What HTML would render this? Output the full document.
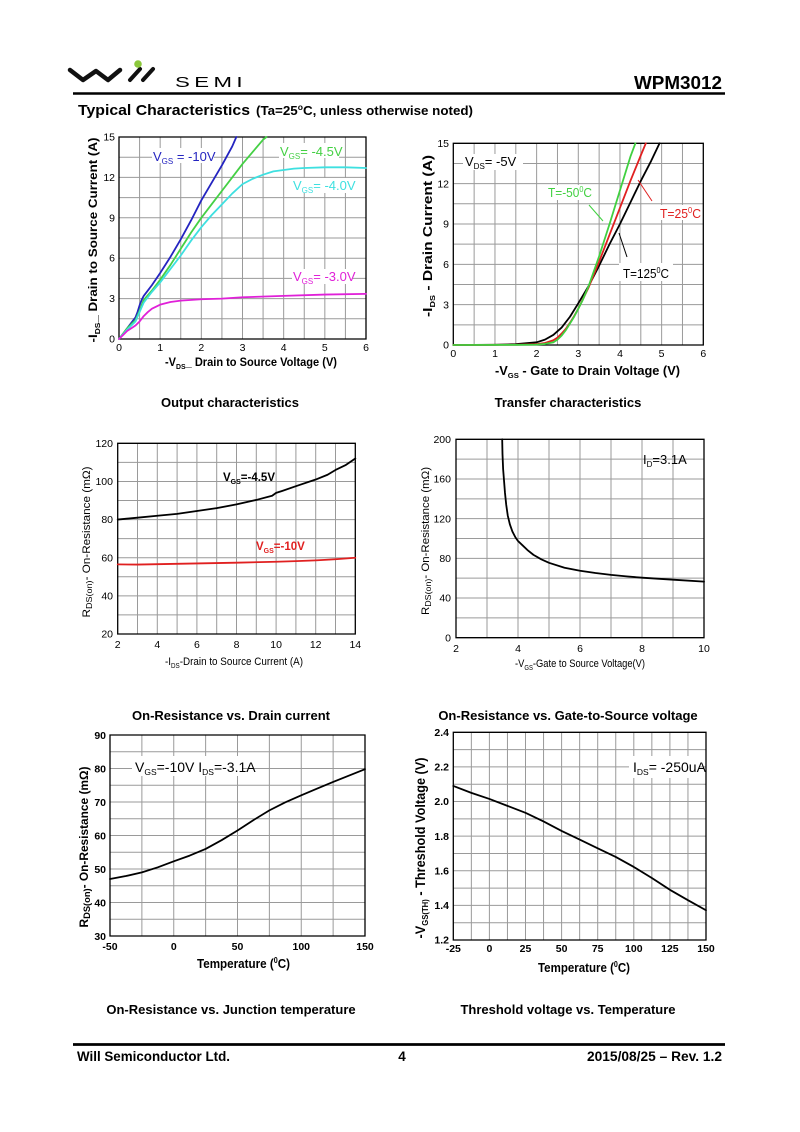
<!DOCTYPE html>
<html>
<head>
<meta charset="utf-8">
<style>
html,body{margin:0;padding:0;background:#fff;}
svg{display:block;}
text{font-family:"Liberation Sans",Arial,sans-serif;fill:#000;}
.g{fill:none;stroke:#9a9a9a;stroke-width:1;vector-effect:non-scaling-stroke;}
.f{fill:none;stroke:#000;stroke-width:1.3;vector-effect:non-scaling-stroke;}
.c{fill:none;stroke-width:1.8;stroke-linejoin:round;stroke-linecap:round;vector-effect:non-scaling-stroke;}
.t{font-size:10.5px;}
.b{font-weight:bold;}
</style>
</head>
<body>
<svg width="800" height="1132" viewBox="0 0 800 1132" xmlns="http://www.w3.org/2000/svg">
<rect width="800" height="1132" fill="#fff"/>

<!-- Header -->
<polyline points="70,70 83,80 96,71 108,80 120,70" fill="none" stroke="#111" stroke-width="4.5" stroke-linejoin="round" stroke-linecap="round"/>
<line x1="130" y1="80" x2="140" y2="69" stroke="#111" stroke-width="4" stroke-linecap="round"/>
<line x1="143" y1="80" x2="153" y2="69" stroke="#111" stroke-width="4" stroke-linecap="round"/>
<circle cx="138" cy="64" r="3.8" fill="#8cc83c"/>
<text x="175" y="87" font-size="15" textLength="72" lengthAdjust="spacingAndGlyphs" letter-spacing="3">SEMI</text>
<text x="722" y="89" font-size="18.5" class="b" text-anchor="end" textLength="88" lengthAdjust="spacingAndGlyphs">WPM3012</text>
<line x1="73" y1="93.5" x2="725" y2="93.5" stroke="#000" stroke-width="2.6"/>
<text x="78" y="115" font-size="15" class="b" textLength="172" lengthAdjust="spacingAndGlyphs">Typical Characteristics</text>
<text x="256" y="115" font-size="12.5" class="b" textLength="217" lengthAdjust="spacingAndGlyphs">(Ta=25<tspan font-size="8" dy="-5">o</tspan><tspan dy="5">C, unless otherwise noted)</tspan></text>

<!-- ===== Chart 1: Output characteristics ===== -->
<g transform="translate(119,339) scale(41.1667,-13.4667)">
<path class="g" d="M0.5,0V15M1,0V15M1.5,0V15M2,0V15M2.5,0V15M3,0V15M3.5,0V15M4,0V15M4.5,0V15M5,0V15M5.5,0V15M0,1.5H6M0,3H6M0,4.5H6M0,6H6M0,7.5H6M0,9H6M0,10.5H6M0,12H6M0,13.5H6"/>
<rect class="f" x="0" y="0" width="6" height="15"/>
<polyline class="c" stroke="#2424c0" points="0,0 0.1,0.4 0.2,0.8 0.3,1.2 0.4,1.6 0.45,2.0 0.5,2.5 0.55,2.9 0.6,3.2 0.7,3.6 0.8,4.0 1,4.9 1.25,6.1 1.5,7.4 1.75,8.8 2,10.3 2.25,11.6 2.5,12.9 2.75,14.3 2.85,15"/>
<polyline class="c" stroke="#44d044" points="0,0 0.2,0.8 0.4,1.4 0.5,2.1 0.6,2.9 0.8,3.6 1,4.4 1.25,5.5 1.5,6.7 1.75,7.9 2,9.0 2.25,10.0 2.5,11.0 2.75,12.0 3,13.0 3.25,13.9 3.5,14.8 3.58,15"/>
<polyline class="c" stroke="#3ee0e0" points="0,0 0.2,0.7 0.4,1.3 0.5,2.0 0.6,2.7 0.8,3.5 1,4.2 1.25,5.2 1.5,6.2 1.75,7.3 2,8.3 2.25,9.2 2.5,10.0 2.75,10.8 3,11.5 3.25,11.9 3.5,12.2 3.75,12.45 4,12.55 4.25,12.65 4.5,12.7 5,12.75 5.5,12.75 6,12.7"/>
<polyline class="c" stroke="#e020d8" points="0,0 0.1,0.3 0.2,0.6 0.3,0.8 0.4,1.0 0.5,1.3 0.6,1.7 0.7,2.0 0.8,2.25 1,2.55 1.25,2.75 1.5,2.85 2,2.95 2.5,3.0 3,3.1 4,3.2 5,3.3 6,3.35"/>
</g>
<rect x="152" y="148" width="62" height="15" fill="#fff"/>
<text x="153" y="161" font-size="13" style="fill:#2424c0">V<tspan font-size="8" dy="3">GS</tspan><tspan dy="-3"> = -10V</tspan></text>
<rect x="279" y="143" width="60" height="15" fill="#fff"/>
<text x="280" y="156" font-size="13" style="fill:#44d044">V<tspan font-size="8" dy="3">GS</tspan><tspan dy="-3">= -4.5V</tspan></text>
<rect x="292" y="178" width="60" height="15" fill="#fff"/>
<text x="293" y="190" font-size="13" style="fill:#3ee0e0">V<tspan font-size="8" dy="3">GS</tspan><tspan dy="-3">= -4.0V</tspan></text>
<rect x="292" y="269" width="60" height="15" fill="#fff"/>
<text x="293" y="281" font-size="13" style="fill:#e020d8">V<tspan font-size="8" dy="3">GS</tspan><tspan dy="-3">= -3.0V</tspan></text>
<g class="t" text-anchor="end">
<text x="115" y="140.5">15</text><text x="115" y="181">12</text><text x="115" y="221.3">9</text><text x="115" y="261.7">6</text><text x="115" y="302">3</text><text x="115" y="342.5">0</text>
</g>
<g class="t" text-anchor="middle">
<text x="119" y="351">0</text><text x="160.2" y="351">1</text><text x="201.3" y="351">2</text><text x="242.5" y="351">3</text><text x="283.7" y="351">4</text><text x="324.8" y="351">5</text><text x="366" y="351">6</text>
</g>
<text x="165" y="366" font-size="12" class="b" textLength="172" lengthAdjust="spacingAndGlyphs">-V<tspan font-size="7.5" dy="3">DS</tspan><tspan dy="-3">_ Drain to Source Voltage (V)</tspan></text>
<text transform="translate(97,240) rotate(-90)" font-size="12" class="b" text-anchor="middle" textLength="205" lengthAdjust="spacingAndGlyphs">-I<tspan font-size="7.5" dy="3">DS</tspan><tspan dy="-3">_ Drain to Source Current (A)</tspan></text>
<text x="230" y="407" font-size="13" class="b" text-anchor="middle">Output characteristics</text>

<!-- ===== Chart 2: Transfer characteristics ===== -->
<g transform="translate(453.3,345) scale(41.667,-13.447)">
<path class="g" d="M0.5,0V15M1,0V15M1.5,0V15M2,0V15M2.5,0V15M3,0V15M3.5,0V15M4,0V15M4.5,0V15M5,0V15M5.5,0V15M0,1.5H6M0,3H6M0,4.5H6M0,6H6M0,7.5H6M0,9H6M0,10.5H6M0,12H6M0,13.5H6"/>
<rect class="f" x="0" y="0" width="6" height="15"/>
<polyline class="c" stroke="#000" points="0,0 1,0.02 1.5,0.06 2,0.2 2.2,0.4 2.4,0.75 2.6,1.3 2.8,2.1 3,3.1 3.25,4.4 3.5,5.9 3.75,7.5 4,9.0 4.25,10.6 4.5,12.2 4.75,13.7 4.95,15"/>
<polyline class="c" stroke="#e02020" points="0,0 1.5,0.02 2,0.06 2.2,0.15 2.4,0.35 2.5,0.55 2.6,0.85 2.7,1.2 2.8,1.65 2.9,2.15 3,2.7 3.25,4.3 3.5,6.2 3.75,8.2 4,10.2 4.25,12.2 4.5,14.1 4.62,15"/>
<polyline class="c" stroke="#40d040" points="0,0 1.5,0.01 2,0.03 2.2,0.08 2.4,0.2 2.5,0.4 2.6,0.7 2.7,1.1 2.8,1.6 2.9,2.1 3,2.7 3.1,3.3 3.25,4.4 3.5,6.6 3.75,9.0 4,11.5 4.25,14.0 4.37,15"/>
</g>
<line x1="589" y1="205" x2="603" y2="221" stroke="#40d040" stroke-width="1"/>
<line x1="638" y1="180" x2="652" y2="201" stroke="#e02020" stroke-width="1"/>
<line x1="619" y1="233" x2="627" y2="257" stroke="#000" stroke-width="1"/>
<rect x="463" y="154" width="60" height="16" fill="#fff"/>
<text x="465" y="166" font-size="13">V<tspan font-size="8" dy="3">DS</tspan><tspan dy="-3">= -5V</tspan></text>
<rect x="546" y="185" width="48" height="15" fill="#fff"/>
<text x="548" y="197" font-size="13" style="fill:#40d040" textLength="44" lengthAdjust="spacingAndGlyphs">T=-50<tspan font-size="8" dy="-5">0</tspan><tspan dy="5">C</tspan></text>
<rect x="658" y="205" width="44" height="15" fill="#fff"/>
<text x="660" y="218" font-size="13" style="fill:#e02020" textLength="41" lengthAdjust="spacingAndGlyphs">T=25<tspan font-size="8" dy="-5">0</tspan><tspan dy="5">C</tspan></text>
<rect x="619" y="263" width="54" height="18" fill="#fff"/>
<text x="623" y="278" font-size="13" textLength="46" lengthAdjust="spacingAndGlyphs">T=125<tspan font-size="8" dy="-5">0</tspan><tspan dy="5">C</tspan></text>
<g class="t" text-anchor="end">
<text x="449" y="147">15</text><text x="449" y="187.3">12</text><text x="449" y="227.7">9</text><text x="449" y="268">6</text><text x="449" y="308.4">3</text><text x="449" y="348.7">0</text>
</g>
<g class="t" text-anchor="middle">
<text x="453.3" y="357">0</text><text x="495" y="357">1</text><text x="536.6" y="357">2</text><text x="578.3" y="357">3</text><text x="620" y="357">4</text><text x="661.6" y="357">5</text><text x="703.3" y="357">6</text>
</g>
<text x="495" y="375" font-size="12.5" class="b" textLength="185" lengthAdjust="spacingAndGlyphs">-V<tspan font-size="7.5" dy="3">GS</tspan><tspan dy="-3"> - Gate to Drain Voltage (V)</tspan></text>
<text transform="translate(432,236) rotate(-90)" font-size="13" class="b" text-anchor="middle" textLength="162" lengthAdjust="spacingAndGlyphs">-I<tspan font-size="7.5" dy="3">DS</tspan><tspan dy="-3"> - Drain Current (A)</tspan></text>
<text x="568" y="407" font-size="13" class="b" text-anchor="middle">Transfer characteristics</text>

<!-- ===== Chart 3: On-Resistance vs Drain current ===== -->
<g transform="translate(117.7,634) scale(19.8,-1.907) translate(-2,-20)">
<path class="g" d="M3,20V120M4,20V120M5,20V120M6,20V120M7,20V120M8,20V120M9,20V120M10,20V120M11,20V120M12,20V120M13,20V120M2,30H14M2,40H14M2,50H14M2,60H14M2,70H14M2,80H14M2,90H14M2,100H14M2,110H14"/>
<rect class="f" x="2" y="20" width="12" height="100"/>
<polyline class="c" stroke="#000" points="2,80 3,81 4,82 5,83 6,84.5 7,86 8,88 9,90.3 9.8,92.5 10,94 10.3,95 11,97.5 12,101 12.6,103.5 13,106 13.5,108.5 14,112"/>
<polyline class="c" stroke="#e02020" points="2,56.5 3,56.4 4,56.6 6,57 8,57.4 10,57.9 11,58.2 12,58.6 13,59.2 14,60"/>
</g>
<text x="223" y="481" font-size="11.5" class="b">V<tspan font-size="7" dy="3">GS</tspan><tspan dy="-3">=-4.5V</tspan></text>
<text x="256" y="550" font-size="11.5" class="b" style="fill:#e02020">V<tspan font-size="7" dy="3">GS</tspan><tspan dy="-3">=-10V</tspan></text>
<g class="t" text-anchor="end">
<text x="113" y="447">120</text><text x="113" y="485">100</text><text x="113" y="523.2">80</text><text x="113" y="561.3">60</text><text x="113" y="599.5">40</text><text x="113" y="637.6">20</text>
</g>
<g class="t" text-anchor="middle">
<text x="117.7" y="648">2</text><text x="157.3" y="648">4</text><text x="196.9" y="648">6</text><text x="236.5" y="648">8</text><text x="276.1" y="648">10</text><text x="315.7" y="648">12</text><text x="355.3" y="648">14</text>
</g>
<text x="165" y="665" font-size="11" textLength="138" lengthAdjust="spacingAndGlyphs">-I<tspan font-size="7" dy="3">DS</tspan><tspan dy="-3">-Drain to Source Current (A)</tspan></text>
<text transform="translate(90,542) rotate(-90)" font-size="11" text-anchor="middle" textLength="151" lengthAdjust="spacingAndGlyphs">R<tspan font-size="8.5" dy="2">DS(on)</tspan><tspan dy="-2">- On-Resistance (mΩ)</tspan></text>
<text x="231" y="720" font-size="13" class="b" text-anchor="middle">On-Resistance vs. Drain current</text>

<!-- ===== Chart 4: On-Resistance vs Gate-to-Source voltage ===== -->
<g transform="translate(456,637.7) scale(31,-0.992) translate(-2,0)">
<path class="g" d="M3,0V200M4,0V200M5,0V200M6,0V200M7,0V200M8,0V200M9,0V200M2,20H10M2,40H10M2,60H10M2,80H10M2,100H10M2,120H10M2,140H10M2,160H10M2,180H10"/>
<rect class="f" x="2" y="0" width="8" height="200"/>
<polyline class="c" stroke="#000" points="3.49,200 3.5,185 3.52,170 3.55,158 3.58,146 3.62,134 3.67,123 3.74,114 3.82,107 3.92,101 4,97.5 4.15,93 4.3,88.5 4.5,83.5 4.75,79 5,75.5 5.5,70.5 6,67.5 6.5,65.2 7,63.3 7.5,61.8 8,60.5 9,58.5 10,56.5"/>
</g>
<text x="643" y="464" font-size="13">I<tspan font-size="8" dy="3">D</tspan><tspan dy="-3">=3.1A</tspan></text>
<g class="t" text-anchor="end">
<text x="451" y="443">200</text><text x="451" y="482.7">160</text><text x="451" y="522.4">120</text><text x="451" y="562">80</text><text x="451" y="601.7">40</text><text x="451" y="641.4">0</text>
</g>
<g class="t" text-anchor="middle">
<text x="456" y="652">2</text><text x="518" y="652">4</text><text x="580" y="652">6</text><text x="642" y="652">8</text><text x="704" y="652">10</text>
</g>
<text x="515" y="667" font-size="11" textLength="130" lengthAdjust="spacingAndGlyphs">-V<tspan font-size="7" dy="3">GS</tspan><tspan dy="-3">-Gate to Source Voltage(V)</tspan></text>
<text transform="translate(429,541) rotate(-90)" font-size="11" text-anchor="middle" textLength="148" lengthAdjust="spacingAndGlyphs">R<tspan font-size="8.5" dy="2">DS(on)</tspan><tspan dy="-2">- On-Resistance (mΩ)</tspan></text>
<text x="568" y="720" font-size="13" class="b" text-anchor="middle">On-Resistance vs. Gate-to-Source voltage</text>

<!-- ===== Chart 5: On-Resistance vs Junction temperature ===== -->
<g transform="translate(110,936) scale(1.275,-3.35) translate(50,-30)">
<path class="g" d="M-25,30V90M0,30V90M25,30V90M50,30V90M75,30V90M100,30V90M125,30V90M-50,35H150M-50,40H150M-50,45H150M-50,50H150M-50,55H150M-50,60H150M-50,65H150M-50,70H150M-50,75H150M-50,80H150M-50,85H150"/>
<rect class="f" x="-50" y="30" width="200" height="60"/>
<polyline class="c" stroke="#000" points="-50,47 -37.5,47.9 -25,49 -12.5,50.5 0,52.3 12.5,54 25,56 37.5,58.6 50,61.5 62.5,64.6 75,67.5 87.5,69.9 100,72 112.5,74 125,76 137.5,77.9 150,79.8"/>
</g>
<rect x="132" y="756" width="110" height="20" fill="#fff"/>
<text x="135" y="772" font-size="14">V<tspan font-size="8.5" dy="3">GS</tspan><tspan dy="-3">=-10V I</tspan><tspan font-size="8.5" dy="3">DS</tspan><tspan dy="-3">=-3.1A</tspan></text>
<g class="t b" text-anchor="end">
<text x="106" y="739">90</text><text x="106" y="772.5">80</text><text x="106" y="806">70</text><text x="106" y="839.5">60</text><text x="106" y="873">50</text><text x="106" y="906.5">40</text><text x="106" y="940">30</text>
</g>
<g class="t b" text-anchor="middle">
<text x="110" y="950">-50</text><text x="173.75" y="950">0</text><text x="237.5" y="950">50</text><text x="301.25" y="950">100</text><text x="365" y="950">150</text>
</g>
<text x="197" y="968" font-size="13" class="b" textLength="93" lengthAdjust="spacingAndGlyphs">Temperature (<tspan font-size="8" dy="-5">0</tspan><tspan dy="5">C)</tspan></text>
<text transform="translate(88,847) rotate(-90)" font-size="11.5" class="b" text-anchor="middle" textLength="161" lengthAdjust="spacingAndGlyphs">R<tspan font-size="9" dy="2">DS(on)</tspan><tspan dy="-2">- On-Resistance (mΩ)</tspan></text>
<text x="231" y="1014" font-size="13" class="b" text-anchor="middle">On-Resistance vs. Junction temperature</text>

<!-- ===== Chart 6: Threshold voltage vs Temperature ===== -->
<g transform="translate(453.3,940) scale(1.444,-173.08) translate(25,-1.2)">
<path class="g" d="M-12.5,1.2V2.4M0,1.2V2.4M12.5,1.2V2.4M25,1.2V2.4M37.5,1.2V2.4M50,1.2V2.4M62.5,1.2V2.4M75,1.2V2.4M87.5,1.2V2.4M100,1.2V2.4M112.5,1.2V2.4M125,1.2V2.4M137.5,1.2V2.4M-25,1.3H150M-25,1.4H150M-25,1.5H150M-25,1.6H150M-25,1.7H150M-25,1.8H150M-25,1.9H150M-25,2.0H150M-25,2.1H150M-25,2.2H150M-25,2.3H150"/>
<rect class="f" x="-25" y="1.2" width="175" height="1.2"/>
<polyline class="c" stroke="#000" points="-25,2.09 -12.5,2.05 0,2.015 12.5,1.975 25,1.935 37.5,1.885 50,1.83 62.5,1.78 75,1.73 87.5,1.68 100,1.622 112.5,1.558 125,1.49 137.5,1.43 150,1.372"/>
</g>
<rect x="629" y="756" width="70" height="22" fill="#fff"/>
<text x="633" y="772" font-size="14">I<tspan font-size="8.5" dy="3">DS</tspan><tspan dy="-3">= -250uA</tspan></text>
<g class="t b" text-anchor="end">
<text x="449" y="736">2.4</text><text x="449" y="770.6">2.2</text><text x="449" y="805.2">2.0</text><text x="449" y="839.9">1.8</text><text x="449" y="874.5">1.6</text><text x="449" y="909.1">1.4</text><text x="449" y="943.7">1.2</text>
</g>
<g class="t b" text-anchor="middle">
<text x="453.3" y="952">-25</text><text x="489.4" y="952">0</text><text x="525.5" y="952">25</text><text x="561.6" y="952">50</text><text x="597.7" y="952">75</text><text x="633.8" y="952">100</text><text x="669.9" y="952">125</text><text x="706" y="952">150</text>
</g>
<text x="538" y="972" font-size="13" class="b" textLength="92" lengthAdjust="spacingAndGlyphs">Temperature (<tspan font-size="8" dy="-5">0</tspan><tspan dy="5">C)</tspan></text>
<text transform="translate(425,848) rotate(-90)" font-size="14" class="b" text-anchor="middle" textLength="181" lengthAdjust="spacingAndGlyphs">-V<tspan font-size="8.5" dy="3">GS(TH)</tspan><tspan dy="-3"> - Threshold Voltage (V)</tspan></text>
<text x="568" y="1014" font-size="13" class="b" text-anchor="middle">Threshold voltage vs. Temperature</text>

<!-- Footer -->
<line x1="73" y1="1044.5" x2="725" y2="1044.5" stroke="#000" stroke-width="2.8"/>
<text x="77" y="1061" font-size="13.5" class="b" textLength="153" lengthAdjust="spacingAndGlyphs">Will Semiconductor Ltd.</text>
<text x="402" y="1061" font-size="13.5" class="b" text-anchor="middle">4</text>
<text x="722" y="1061" font-size="13.5" class="b" text-anchor="end" textLength="135" lengthAdjust="spacingAndGlyphs">2015/08/25 – Rev. 1.2</text>
</svg>
</body>
</html>
